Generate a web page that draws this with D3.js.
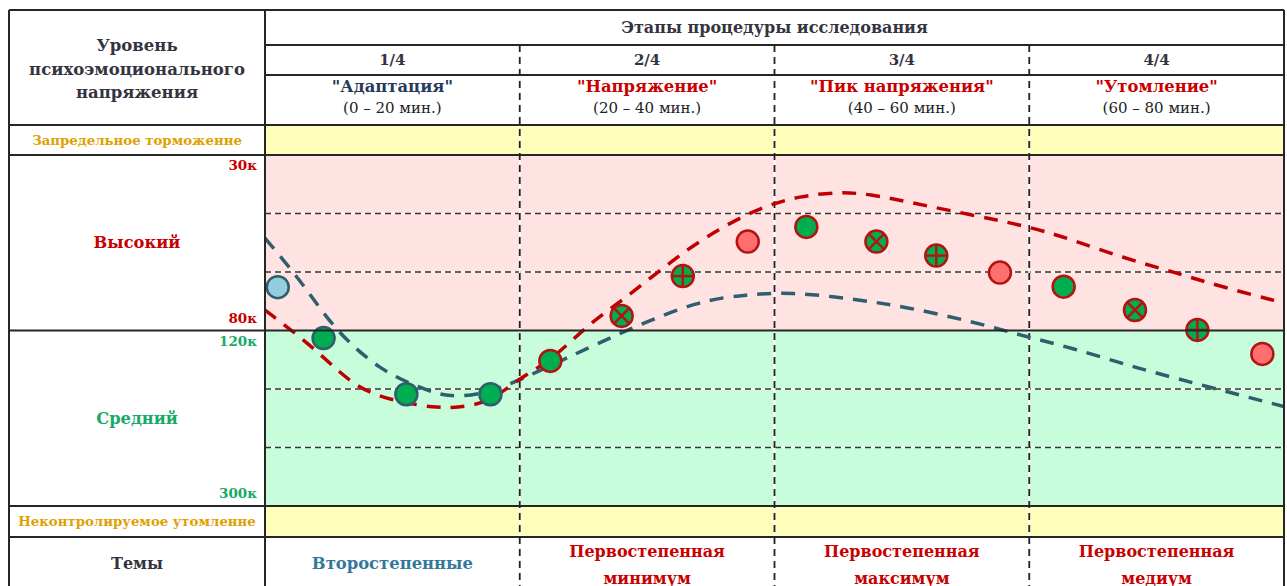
<!DOCTYPE html>
<html><head><meta charset="utf-8">
<script src="https://cdn.jsdelivr.net/npm/d3@7"></script>
<style>body{margin:0;background:#fff}svg{display:block}text{font-family:"DejaVu Serif",serif}</style>
</head><body><svg id="c" width="1287" height="586"></svg>
<script>
// ---------------- data ----------------
const stageBounds = [0, 20, 40, 60, 80];
const stageNumbers = ["1/4", "2/4", "3/4", "4/4"];
const stageNames = ['"Адаптация"', '"Напряжение"', '"Пик напряжения"', '"Утомление"'];
const stageTimes = ["(0 – 20 мин.)", "(20 – 40 мин.)", "(40 – 60 мин.)", "(60 – 80 мин.)"];
const themeLine1 = ["Второстепенные", "Первостепенная", "Первостепенная", "Первостепенная"];
const themeLine2 = ["", "минимум", "максимум", "медиум"];

const bandNames = ["Средний", "Высокий"];
const bandFrom = [0, 3];
const bandTo = [3, 6];
const tickLabels = ["300к", "120к", "80к", "30к"];
const tickLevels = [0, 3, 3, 6];
const tickBand = [0, 0, 1, 1];
const gridLevels = [1, 2, 4, 5];

const pointMinutes = [1.0, 4.6, 11.1, 17.7, 22.4, 28.0, 32.8, 37.9, 42.5, 48.0, 52.7, 57.7, 62.7, 68.3, 73.2, 78.3];
const pointLevels  = [3.74, 2.87, 1.91, 1.91, 2.48, 3.25, 3.93, 4.52, 4.77, 4.52, 4.28, 3.99, 3.75, 3.35, 3.01, 2.60];
const pointTypes   = ["light", "green", "green", "green", "green", "cross", "plus", "salmon", "green", "cross", "plus", "salmon", "green", "cross", "plus", "salmon"];

const redMinutes = [0, 4.08, 7.22, 10.6, 13.2, 15.3, 17.7, 20.0, 22.45, 25.5, 27.95, 32.3, 35.5, 38.9, 42.0, 45.1, 47.5, 50.4, 55.6, 60.1, 63.4, 67.4, 71.3, 75.2, 80];
const redLevels  = [3.35, 2.67, 1.98, 1.78, 1.68, 1.68, 1.78, 2.19, 2.48, 3.13, 3.49, 4.26, 4.72, 5.11, 5.30, 5.37, 5.33, 5.20, 4.97, 4.77, 4.55, 4.24, 4.00, 3.74, 3.47];

const tealMinutes = [0, 1.96, 3.3, 5.65, 9.03, 12.17, 14.3, 16.9, 19.5, 23.7, 28.4, 34.15, 37.8, 41.2, 46.2, 50.4, 55.6, 59.3, 63.4, 68.1, 72.6, 80];
const tealLevels  = [4.58, 4.07, 3.69, 2.97, 2.32, 2.02, 1.86, 1.90, 2.10, 2.53, 3.01, 3.52, 3.61, 3.66, 3.54, 3.40, 3.15, 2.92, 2.70, 2.38, 2.12, 1.70];

// ---------------- layout ----------------
const L = 9, C = 265, R = 1284;
const Y0 = 10, Y1 = 45, Y2 = 75, Y3 = 125, Y4 = 155, Y5 = 506, Y6 = 537, YB = 600;
const svg = d3.select("#c");
const x = d3.scaleLinear().domain([0, 80]).range([C, R]);
const y = d3.scaleLinear().domain([0, 6]).range([Y5, Y4]);

const colDark = "#34343f", colRed = "#c80000", colGold = "#e0a000", colGreen = "#17aa66",
      colTeal = "#2f5e6e", colBlueText = "#31799a";

// fills
svg.append("rect").attr("x", C).attr("y", Y3).attr("width", R - C).attr("height", Y4 - Y3).attr("fill", "#ffffbb");
svg.append("rect").attr("x", C).attr("y", Y5).attr("width", R - C).attr("height", Y6 - Y5).attr("fill", "#ffffbb");
const bandFill = ["#c7fddb", "#ffe3e3"];
bandNames.forEach((n, i) => {
  svg.append("rect").attr("x", C).attr("y", y(bandTo[i])).attr("width", R - C)
    .attr("height", y(bandFrom[i]) - y(bandTo[i])).attr("fill", bandFill[i]);
});

// gridlines
const g = svg.append("g");
gridLevels.forEach(l => {
  g.append("line").attr("x1", C).attr("x2", R).attr("y1", y(l)).attr("y2", y(l)).attr("stroke", "#fff").attr("stroke-width", 1.6);
  g.append("line").attr("x1", C).attr("x2", R).attr("y1", y(l)).attr("y2", y(l)).attr("stroke", "#333").attr("stroke-width", 1.6).attr("stroke-dasharray", "6,4");
});
// vertical stage dividers
stageBounds.slice(1, -1).forEach(b => {
  g.append("line").attr("x1", x(b)).attr("x2", x(b)).attr("y1", Y1).attr("y2", YB).attr("stroke", "#fff").attr("stroke-width", 1.8);
  g.append("line").attr("x1", x(b)).attr("x2", x(b)).attr("y1", Y1).attr("y2", YB).attr("stroke", "#222").attr("stroke-width", 1.8).attr("stroke-dasharray", "7,5");
});

// curves
svg.append("clipPath").attr("id", "clip").append("rect").attr("x", C).attr("y", Y4).attr("width", R - C).attr("height", Y5 - Y4);
const line = d3.line().x(d => x(d[0])).y(d => y(d[1])).curve(d3.curveBasis);
const cg = svg.append("g").attr("clip-path", "url(#clip)");
cg.append("path").datum(d3.zip(tealMinutes, tealLevels)).attr("d", line).attr("fill", "none")
  .attr("stroke", colTeal).attr("stroke-width", 3.5).attr("stroke-dasharray", "14,10");
cg.append("path").datum(d3.zip(redMinutes, redLevels)).attr("d", line).attr("fill", "none")
  .attr("stroke", "#c00000").attr("stroke-width", 3.5).attr("stroke-dasharray", "14,10");

// markers
const r = 11;
const fillFor = { light: "#94cedd", green: "#00ad4f", cross: "#00ad4f", plus: "#00ad4f", salmon: "#ff6f6f" };
pointMinutes.forEach((m, i) => {
  const cx = x(m), cy = y(pointLevels[i]), t = pointTypes[i];
  const stroke = m < stageBounds[1] ? colTeal : "#b51212";
  const mg = svg.append("g");
  mg.append("circle").attr("cx", cx).attr("cy", cy).attr("r", r).attr("fill", fillFor[t]).attr("stroke", stroke).attr("stroke-width", 2.5);
  const k = r * 0.72;
  if (t === "cross") {
    mg.append("line").attr("x1", cx - k).attr("y1", cy - k).attr("x2", cx + k).attr("y2", cy + k).attr("stroke", stroke).attr("stroke-width", 2.4);
    mg.append("line").attr("x1", cx - k).attr("y1", cy + k).attr("x2", cx + k).attr("y2", cy - k).attr("stroke", stroke).attr("stroke-width", 2.4);
  } else if (t === "plus") {
    mg.append("line").attr("x1", cx - r).attr("y1", cy).attr("x2", cx + r).attr("y2", cy).attr("stroke", stroke).attr("stroke-width", 2.4);
    mg.append("line").attr("x1", cx).attr("y1", cy - r).attr("x2", cx).attr("y2", cy + r).attr("stroke", stroke).attr("stroke-width", 2.4);
  }
});

// table solid lines
const tl = svg.append("g").attr("stroke", "#262626").attr("stroke-width", 2);
[[L, Y0, R, Y0], [C, Y1, R, Y1], [C, Y2, R, Y2], [L, Y3, R, Y3], [L, Y4, R, Y4], [L, y(3), R, y(3)], [L, Y5, R, Y5], [L, Y6, R, Y6],
 [L, Y0, L, YB], [C, Y0, C, YB], [R, Y0, R, YB]].forEach(s => {
  tl.append("line").attr("x1", s[0]).attr("y1", s[1]).attr("x2", s[2]).attr("y2", s[3]);
});

// texts
function txt(t, px, py, size, color, weight, anchor) {
  return svg.append("text").attr("x", px).attr("y", py).attr("font-size", size).attr("fill", color)
    .attr("font-weight", weight || "bold").attr("text-anchor", anchor || "middle").attr("dominant-baseline", "central").text(t);
}
const lc = (L + C) / 2;
txt("Уровень", lc, 45, 16.5, colDark);
txt("психоэмоционального", lc, 69, 16.5, colDark);
txt("напряжения", lc, 92, 16.5, colDark);
txt("Этапы процедуры исследования", (C + R) / 2, 27, 16, colDark);
txt("Запредельное торможенне", lc, 140, 13.3, colGold);
txt("Неконтролируемое утомленне", lc, 521, 13.3, colGold);
txt("Темы", lc, 563, 16, colDark);

stageNumbers.forEach((s, i) => {
  const mx = x((stageBounds[i] + stageBounds[i + 1]) / 2);
  txt(s, mx, 60, 15, colDark);
  txt(stageNames[i], mx, 86, 16.4, i === 0 ? "#263a5a" : colRed);
  txt(stageTimes[i], mx, 108, 15, "#222", "normal");
  if (themeLine2[i]) {
    txt(themeLine1[i], mx, 551, 16, colRed);
    txt(themeLine2[i], mx, 578, 16, colRed);
  } else {
    txt(themeLine1[i], mx, 563, 16.4, colBlueText);
  }
});

const bandColor = [colGreen, colRed];
bandNames.forEach((n, i) => {
  txt(n, lc, y((bandFrom[i] + bandTo[i]) / 2), 16.3, bandColor[i]);
});
tickLabels.forEach((t, i) => {
  const b = tickBand[i];
  const isTop = tickLevels[i] === bandTo[b];
  txt(t, C - 8, y(tickLevels[i]) + (isTop ? 10 : -13), 13.5, bandColor[b], "bold", "end");
});
</script></body></html>
